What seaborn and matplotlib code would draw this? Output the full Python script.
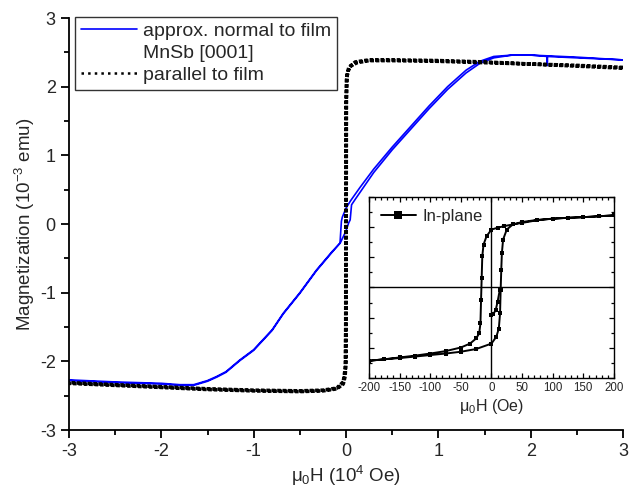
import numpy as np
import matplotlib
matplotlib.use("Agg")
import matplotlib.pyplot as plt
from matplotlib.lines import Line2D
from matplotlib.ticker import MultipleLocator
import seaborn as sns

# field in 10^4 Oe, magnetization in 10^-3 emu
# approx. normal to film, MnSb [0001]
normal_down_h = [3.0, 2.5, 2.18, 2.18, 2.18, 2.0, 1.8, 1.6, 1.45, 1.3, 1.1, 0.9, 0.7, 0.5, 0.3, 0.15, 0.05,
                 0.0, -0.04, -0.05, -0.065, -0.15, -0.32, -0.5, -0.68, -0.8, -1.0, -1.15, -1.3, -1.4, -1.5,
                 -1.65, -1.8, -2.0, -2.5, -3.0]
normal_down_m = [2.39, 2.42, 2.44, 2.31, 2.44, 2.46, 2.46, 2.44, 2.37, 2.24, 2.0, 1.72, 1.42, 1.12, 0.80, 0.53, 0.34,
                 0.23, 0.10, 0.04, -0.28, -0.40, -0.67, -1.0, -1.30, -1.54, -1.83, -1.98, -2.15, -2.22, -2.28,
                 -2.34, -2.34, -2.32, -2.30, -2.27]
normal_up_h = [-3.0, -2.5, -2.0, -1.8, -1.65, -1.5, -1.4, -1.3, -1.15, -1.0, -0.8, -0.68, -0.5, -0.32, -0.15,
               -0.06, 0.0, 0.03, 0.045, 0.06, 0.1, 0.3, 0.5, 0.7, 0.9, 1.1, 1.3, 1.45, 1.6, 1.8, 2.0, 2.5, 3.0]
normal_up_m = [-2.28, -2.31, -2.33, -2.35, -2.35, -2.29, -2.23, -2.16, -1.99, -1.84, -1.55, -1.31, -1.01, -0.68, -0.41,
               -0.27, -0.10, 0.02, 0.06, 0.28, 0.36, 0.75, 1.08, 1.38, 1.68, 1.96, 2.20, 2.34, 2.42, 2.46, 2.46, 2.43, 2.39]

# parallel to film
par_down_h = [3.0, 2.5, 2.0, 1.5, 1.0, 0.5, 0.25, 0.12, 0.05, 0.02, 0.005, 0.0, -0.0016, -0.003, -0.008,
              -0.03, -0.1, -0.25, -0.5, -1.0, -1.5, -2.0, -2.5, -3.0]
par_down_m = [2.28, 2.31, 2.33, 2.35, 2.37, 2.38, 2.38, 2.35, 2.30, 2.22, 2.1, 1.5, 0.0, -1.5, -2.1,
              -2.30, -2.39, -2.42, -2.43, -2.42, -2.40, -2.37, -2.34, -2.31]
par_up_h = [-3.0, -2.5, -2.0, -1.5, -1.0, -0.5, -0.25, -0.1, -0.03, -0.01, 0.0, 0.0016, 0.004, 0.01,
            0.03, 0.1, 0.25, 0.5, 1.0, 1.5, 2.0, 2.5, 3.0]
par_up_m = [-2.32, -2.35, -2.38, -2.41, -2.43, -2.44, -2.43, -2.40, -2.33, -2.22, -2.0, 0.0, 1.8, 2.15,
            2.28, 2.36, 2.39, 2.39, 2.38, 2.36, 2.33, 2.30, 2.27]

# inset, in-plane, field in Oe
ins_down_h = [200, 175, 150, 125, 100, 75, 50, 35, 20, 10, 0, -8, -13, -15, -16, -17, -18, -20, -25, -35,
              -50, -75, -100, -125, -150, -175, -200]
ins_down_m = [2.39, 2.36, 2.33, 2.31, 2.28, 2.23, 2.14, 2.09, 2.03, 1.98, 1.92, 1.70, 1.42, 1.03, 0.31, -0.41,
              -1.19, -1.52, -1.69, -1.86, -1.99, -2.11, -2.19, -2.26, -2.32, -2.38, -2.43]
ins_up_h = [-200, -175, -150, -125, -100, -75, -50, -25, 0, 8, 12, 14, 15, 16, 17, 19, 25, 35, 50,
            75, 100, 125, 150, 175, 200]
ins_up_m = [-2.43, -2.38, -2.34, -2.29, -2.24, -2.19, -2.13, -2.04, -1.86, -1.63, -1.36, -0.86, -0.08, 0.59,
            1.14, 1.59, 1.92, 2.09, 2.17, 2.24, 2.28, 2.31, 2.33, 2.36, 2.39]
ins_virgin_h = [0, 3, 7, 10, 13.6]
ins_virgin_m = [-0.91, -0.89, -0.74, -0.47, -0.08]

legend_labels = ["approx. normal to film", "MnSb [0001]", "parallel to film"]

sns.set_theme(style="ticks")
plt.rcParams['font.family'] = ['Liberation Sans', 'DejaVu Sans']
plt.rcParams['mathtext.fontset'] = 'custom'
plt.rcParams['mathtext.rm'] = 'Liberation Sans'
plt.rcParams['mathtext.it'] = 'Liberation Sans:italic'
plt.rcParams['axes.unicode_minus'] = False

dots = (0, (1.0, 0.5))

fig = plt.figure(figsize=(6.29, 4.95), dpi=100)
ax = fig.add_axes([0.1097, 0.1313, 0.8808, 0.8323])

sns.lineplot(x=normal_down_h + normal_up_h, y=normal_down_m + normal_up_m, sort=False, estimator=None,
             color="blue", lw=1.2, ax=ax)
sns.lineplot(x=par_down_h + par_up_h, y=par_down_m + par_up_m, sort=False, estimator=None,
             color="black", lw=2.6, ls=dots, ax=ax)

ax.set_xlim(-3, 3)
ax.set_ylim(-3, 3)
ax.xaxis.set_major_locator(MultipleLocator(1))
ax.xaxis.set_minor_locator(MultipleLocator(0.5))
ax.yaxis.set_major_locator(MultipleLocator(1))
ax.yaxis.set_minor_locator(MultipleLocator(0.5))
ax.tick_params(which="major", direction="out", length=6, width=1.3, labelsize=13, color="black")
ax.tick_params(which="minor", direction="out", length=3.5, width=1.3, color="black")
sns.despine(ax=ax)
for s in ["left", "bottom"]:
    ax.spines[s].set_linewidth(1.3)
    ax.spines[s].set_color("black")
ax.set_xlabel("μ$_0$H (10$^4$ Oe)", fontsize=13.5, labelpad=3)
ax.set_ylabel("Magnetization (10$^{-3}$ emu)", fontsize=13.5, labelpad=2)

handles = [Line2D([], [], color="blue", lw=1.2),
           Line2D([], [], color="none"),
           Line2D([], [], color="black", lw=1.8, ls=":")]
leg = ax.legend(handles, legend_labels, loc="upper left", bbox_to_anchor=(0.011, 1.003),
                borderaxespad=0, fontsize=14, frameon=True, fancybox=False, framealpha=1,
                edgecolor="#333333", handlelength=2.9, handletextpad=0.3, borderpad=0.3,
                labelspacing=0.22)
leg.get_frame().set_linewidth(1.0)

# inset
axin = fig.add_axes([0.5866, 0.2364, 0.3895, 0.3657])
axin.axhline(0, color="black", lw=1)
axin.axvline(0, color="black", lw=1)
sns.lineplot(x=ins_down_h + ins_up_h, y=ins_down_m + ins_up_m, sort=False, estimator=None,
             color="black", lw=1.4, marker="s", markersize=3.5, markeredgewidth=0, ax=axin,
             label="In-plane")
sns.lineplot(x=ins_virgin_h, y=ins_virgin_m, sort=False, estimator=None,
             color="black", lw=1.4, marker="s", markersize=3.5, markeredgewidth=0, ax=axin)
axin.set_xlim(-200, 200)
axin.set_ylim(-3, 3)
axin.xaxis.set_major_locator(MultipleLocator(50))
axin.xaxis.set_minor_locator(MultipleLocator(10))
axin.yaxis.set_major_locator(MultipleLocator(1))
axin.yaxis.set_minor_locator(MultipleLocator(0.5))
axin.tick_params(which="both", direction="in", top=True, right=True, color="black",
                 labelleft=False, labelsize=8.3, pad=3)
axin.tick_params(which="major", length=3.5, width=0.9)
axin.tick_params(which="minor", length=2, width=0.9)
for s in axin.spines.values():
    s.set_linewidth(1.0)
    s.set_color("black")
axin.set_xlabel("μ$_0$H (Oe)", fontsize=11.5, labelpad=2)
axin.legend(loc="upper left", frameon=False, fontsize=12, handlelength=2.1, handletextpad=0.4,
            borderaxespad=0.3, markerscale=1.5)

fig.savefig("out.png", dpi=100)
